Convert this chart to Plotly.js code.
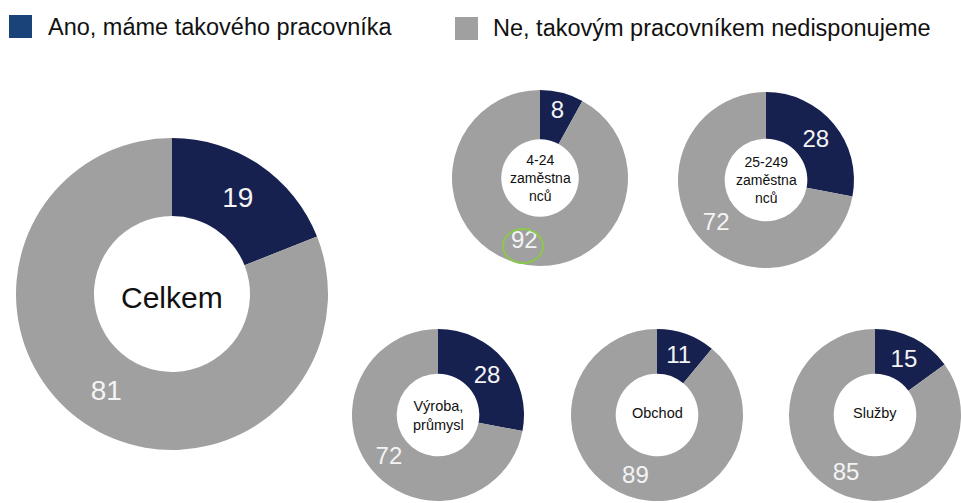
<!DOCTYPE html>
<html>
<head>
<meta charset="utf-8">
<script src="https://cdn.plot.ly/plotly-3.0.1.min.js"></script>
<style>html,body{margin:0;padding:0;background:#fff;}#chart{width:961px;height:503px;}</style>
</head>
<body>
<div id="chart"></div>
<script>
// ---- data ----
const seriesNames = ["Ano, máme takového pracovníka", "Ne, takovým pracovníkem nedisponujeme"];
const groups = ["Celkem", "4-24<br>zaměstna<br>nců", "25-249<br>zaměstna<br>nců", "Výroba,<br>průmysl", "Obchod", "Služby"];
const anoValues = [19, 8, 28, 28, 11, 15];
const neValues = [81, 92, 72, 72, 89, 85];

// ---- layout geometry (pixels) ----
const W = 961, H = 503;
const geom = [
  {cx: 172, cy: 294, r: 156, hole: 0.5, num: 28, lbl: 30, dy: 3},
  {cx: 540, cy: 178, r: 88, hole: 0.44, num: 24, lbl: 14, dy: 0},
  {cx: 766, cy: 180, r: 88, hole: 0.47, num: 24, lbl: 14, dy: 0},
  {cx: 438, cy: 415, r: 86, hole: 0.48, num: 24, lbl: 14.5, dy: 0},
  {cx: 657, cy: 415, r: 86, hole: 0.48, num: 24, lbl: 14.5, dy: -2},
  {cx: 875, cy: 415, r: 86, hole: 0.48, num: 24, lbl: 14.5, dy: -2}
];
const navy = "#172150", grey = "#a0a0a0";
const clamp = v => Math.max(0, Math.min(1, v));
const mainFont = "Liberation Sans, Arial, sans-serif";

const traces = groups.map((g, i) => {
  const p = geom[i];
  return {
    type: "pie",
    labels: seriesNames,
    values: [anoValues[i], neValues[i]],
    hole: p.hole,
    sort: false,
    direction: "clockwise",
    rotation: 0,
    marker: {colors: [navy, grey], line: {width: 0}},
    textinfo: "value",
    textposition: "inside",
    insidetextorientation: "horizontal",
    textfont: {family: mainFont, size: p.num, color: "#f4f4f4"},
    hoverinfo: "label+value",
    showlegend: false,
    domain: {
      x: [clamp((p.cx - p.r) / W), clamp((p.cx + p.r) / W)],
      y: [clamp(1 - (p.cy + p.r) / H), clamp(1 - (p.cy - p.r) / H)]
    }
  };
});

const annotations = groups.map((g, i) => {
  const p = geom[i];
  return {
    xref: "paper", yref: "paper",
    x: p.cx / W, y: 1 - (p.cy + p.dy) / H,
    xanchor: "center", yanchor: "middle",
    text: g, showarrow: false,
    font: {family: mainFont, size: p.lbl, color: "#111"}
  };
});

// legend (text + swatches)
const legendColors = ["#1a4479", "#a0a0a0"];
const legendX = [9, 455];
const legendTextX = [46, 491];
const shapes = [];
seriesNames.forEach((s, i) => {
  shapes.push({
    type: "rect", xref: "paper", yref: "paper",
    x0: legendX[i] / W, x1: (legendX[i] + 23) / W,
    y0: 1 - (15 + 23 + i * 2) / H, y1: 1 - (15 + i * 2) / H,
    fillcolor: legendColors[i], line: {width: 0}
  });
  annotations.push({
    xref: "paper", yref: "paper",
    x: legendTextX[i] / W, y: 1 - (27 + i) / H,
    xanchor: "left", yanchor: "middle",
    text: s, showarrow: false,
    font: {family: mainFont, size: 23.5, color: "#111"}
  });
});

// green highlight circle around the "92" label
shapes.push({
  type: "circle", xref: "paper", yref: "paper",
  x0: 503 / W, x1: 543 / W, y0: 1 - 263 / H, y1: 1 - 229 / H,
  line: {color: "#8cc84b", width: 2}, fillcolor: "rgba(0,0,0,0)"
});

const layout = {
  width: W, height: H,
  margin: {l: 0, r: 0, t: 0, b: 0},
  paper_bgcolor: "#ffffff",
  showlegend: false,
  annotations: annotations,
  shapes: shapes,
  font: {family: mainFont}
};

Plotly.newPlot("chart", traces, layout, {displayModeBar: false, staticPlot: true});
</script>
</body>
</html>
